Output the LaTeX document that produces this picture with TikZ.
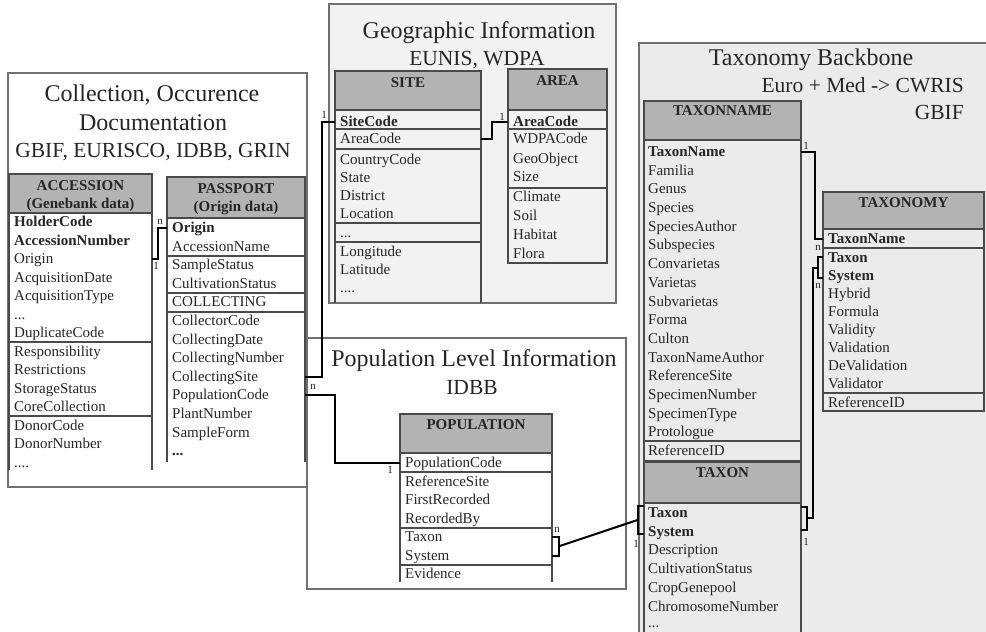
\documentclass[tikz,border=0pt]{standalone}
\usepackage{fontspec}
\setmainfont{Liberation Serif}
\usetikzlibrary{calc}

\definecolor{hdrgray}{HTML}{B3B3B3}
\definecolor{tblline}{HTML}{4A4A4A}
\definecolor{panelline}{HTML}{707070}
\definecolor{geofill}{HTML}{F2F2F2}
\definecolor{taxfill}{HTML}{EBEBEB}
\definecolor{ink}{HTML}{262626}

\newcommand{\tdots}{...}
\newcommand{\fdots}{....}

% one column of field names: prefix, x, list of y/text
\newcommand{\fieldcol}[3]{%
  \foreach \fldy/\fldt [count=\fldk] in {#3}{%
    \node[fld] (#1-\fldk) at (#2,\fldy) {\fldt};}}

\tikzset{
  panel/.style={draw=panelline, line width=1.3pt},
  tline/.style={draw=tblline, line width=1.3pt},
  fld/.style={anchor=west, inner xsep=0pt, inner ysep=0pt, text height=11pt,
    text depth=2pt, font=\fontsize{15}{18}\selectfont, text=ink},
  hdrtxt/.style={anchor=base, inner sep=0pt,
    font=\fontsize{15}{18}\selectfont\bfseries, text=ink},
  ttl/.style={anchor=base, inner sep=0pt, font=\fontsize{24}{28}\selectfont, text=ink},
  subttl/.style={anchor=base, inner sep=0pt, font=\fontsize{21.5}{26}\selectfont, text=ink},
  card/.style={inner sep=0pt, font=\fontsize{11}{13}\selectfont, text=ink},
  conn/.style={draw=black, line width=2pt, line join=miter},
}

\begin{document}
\begin{tikzpicture}[x=1pt,y=-1pt]
\useasboundingbox[fill=white] (0,0) rectangle (986,632);

% ---------------- Collection, Occurence Documentation ----------------
\draw[panel, fill=white] (8,73) rectangle (307,487);
\node[ttl] (coll-t1) at (152,101) {Collection, Occurence};
\node[ttl] (coll-t2) at (153,130) {Documentation};
\node[subttl] (coll-t3) at (153,157) {GBIF, EURISCO, IDBB, GRIN};

% ACCESSION
\coordinate (acc-l) at (9,0);
\coordinate (acc-r) at (152,0);
\fill[hdrgray] (9,174) rectangle (152,213);
\draw[tline] (9,470) -- (9,174) -- (152,174) -- (152,470);
\draw[tline] (9,213) -- (152,213) (9,342) -- (152,342) (9,416) -- (152,416);
\node[hdrtxt] (acc-h1) at (80.5,190) {ACCESSION};
\node[hdrtxt] (acc-h2) at (80.5,208) {(Genebank data)};
\fieldcol{acc}{14}{222/\textbf{HolderCode}, 240.5/\textbf{AccessionNumber},
  259/Origin, 277.5/AcquisitionDate, 296/AcquisitionType, 314.5/\tdots,
  333/DuplicateCode, 351.5/Responsibility, 370/Restrictions,
  388.5/StorageStatus, 407/CoreCollection, 425.5/DonorCode,
  444/DonorNumber, 462.5/\fdots}

% PASSPORT
\coordinate (pas-l) at (167,0);
\coordinate (pas-r) at (305,0);
\fill[hdrgray] (167,177) rectangle (305,218);
\draw[tline] (167,462) -- (167,177) -- (305,177) -- (305,462);
\draw[tline] (167,218) -- (305,218) (167,256) -- (305,256)
  (167,293) -- (305,293) (167,312) -- (305,312);
\node[hdrtxt] (pas-h1) at (236,193) {PASSPORT};
\node[hdrtxt] (pas-h2) at (236,211) {(Origin data)};
\fieldcol{pas}{172}{228/\textbf{Origin}, 246.6/AccessionName,
  265.2/SampleStatus, 283.8/CultivationStatus, 302.4/COLLECTING,
  321/CollectorCode, 339.6/CollectingDate, 358.2/CollectingNumber,
  376.8/CollectingSite, 395.4/PopulationCode, 414/PlantNumber,
  432.6/SampleForm, 451.2/\textbf{\tdots}}

% ---------------- Geographic Information ----------------
\draw[panel, fill=geofill] (329,4) rectangle (616,303);
\node[ttl] (geo-t1) at (479,38) {Geographic Information};
\node[subttl] (geo-t2) at (477,65) {EUNIS, WDPA};

% SITE
\coordinate (site-l) at (335,0);
\coordinate (site-r) at (481,0);
\fill[hdrgray] (335,71) rectangle (481,110);
\draw[tline] (335,303) -- (335,71) -- (481,71) -- (481,303);
\draw[tline] (335,110) -- (481,110) (335,129) -- (481,129)
  (335,149) -- (481,149) (335,223) -- (481,223) (335,242) -- (481,242);
\node[hdrtxt] (site-h) at (408,87) {SITE};
\fieldcol{site}{340}{122/\textbf{SiteCode}, 138.5/AreaCode,
  160/CountryCode, 178/State, 196/District, 214/Location, 232.5/\tdots,
  252/Longitude, 270/Latitude, 287.5/\fdots}

% AREA
\coordinate (area-l) at (508,0);
\fill[hdrgray] (508,69) rectangle (607,110);
\draw[tline] (508,69) rectangle (607,263);
\draw[tline] (508,110) -- (607,110) (508,129) -- (607,129) (508,188) -- (607,188);
\node[hdrtxt] (area-h) at (557.5,85) {AREA};
\fieldcol{area}{513}{122/\textbf{AreaCode}, 139/WDPACode, 159/GeoObject,
  177/Size, 197/Climate, 216/Soil, 235/Habitat, 254/Flora}

% ---------------- Population Level Information ----------------
\draw[panel, fill=white] (307,338) rectangle (626,589);
\node[ttl] (pl-t1) at (474,366) {Population Level Information};
\node[subttl] (pl-t2) at (472,394) {IDBB};

% POPULATION
\coordinate (pop-l) at (400,0);
\coordinate (pop-r) at (552,0);
\fill[hdrgray] (400,414) rectangle (552,453);
\draw[tline] (400,582) -- (400,414) -- (552,414) -- (552,582);
\draw[tline] (400,453) -- (552,453) (400,472) -- (552,472)
  (400,528) -- (552,528) (400,565) -- (552,565);
\node[hdrtxt] (pop-h) at (476,429) {POPULATION};
\fieldcol{pop}{405}{463/PopulationCode, 481.5/ReferenceSite,
  500/FirstRecorded, 518.5/RecordedBy, 537/Taxon, 555.5/System, 574/Evidence}

% ---------------- Taxonomy Backbone ----------------
\fill[taxfill] (639,43) rectangle (986,632);
\draw[panel] (986,43) -- (639,43) -- (639,632);
\node[ttl] (tb-t1) at (811,65) {Taxonomy Backbone};
\node[subttl, anchor=base east] (tb-t2) at (964,92) {Euro + Med -> CWRIS};
\node[subttl, anchor=base east] (tb-t3) at (964,119) {GBIF};

% TAXONNAME
\coordinate (tn-r) at (801,0);
\fill[hdrgray] (644,101) rectangle (801,140);
\draw[tline] (644,101) rectangle (801,461);
\draw[tline] (644,140) -- (801,140) (644,441) -- (801,441);
\node[hdrtxt] (tn-h) at (722.5,115) {TAXONNAME};
\fieldcol{tn}{648}{152/\textbf{TaxonName}, 170.7/Familia, 189.4/Genus,
  208.1/Species, 226.8/SpeciesAuthor, 245.4/Subspecies, 264.1/Convarietas,
  282.8/Varietas, 301.5/Subvarietas, 320.2/Forma, 338.9/Culton,
  357.6/TaxonNameAuthor, 376.3/ReferenceSite, 395/SpecimenNumber,
  413.7/SpecimenType, 432.4/Protologue, 451/ReferenceID}

% TAXON
\coordinate (tx-l) at (644,0);
\coordinate (tx-r) at (801,0);
\fill[hdrgray] (644,462) rectangle (801,503);
\draw[tline] (644,632) -- (644,462) -- (801,462) -- (801,632);
\draw[tline] (644,503) -- (801,503);
\node[hdrtxt] (tx-h) at (722.5,477) {TAXON};
\fieldcol{tx}{648}{513/\textbf{Taxon}, 531.7/\textbf{System},
  550.4/Description, 569.1/CultivationStatus, 587.8/CropGenepool,
  606.5/ChromosomeNumber, 623/\tdots}

% TAXONOMY
\coordinate (tax-l) at (823,0);
\fill[hdrgray] (823,192) rectangle (984,229);
\draw[tline] (823,192) rectangle (984,411);
\draw[tline] (823,229) -- (984,229) (823,248) -- (984,248) (823,393) -- (984,393);
\node[hdrtxt] (tax-h) at (903.5,207) {TAXONOMY};
\fieldcol{tax}{828}{239/\textbf{TaxonName}, 258/\textbf{Taxon},
  276/\textbf{System}, 294/Hybrid, 312/Formula, 330/Validity,
  347.5/Validation, 365.5/DeValidation, 383.5/Validator, 402.5/ReferenceID}

% ---------------- Relationships ----------------
% ACCESSION.Origin -- PASSPORT.Origin
\draw[conn] (acc-3 -| acc-r) -- ++(6,0) |- (pas-1 -| pas-l);
\node[card] (c-acc-n) at (160,222) {n};
\node[card] (c-acc-1) at (156,266) {1};

% PASSPORT.CollectingSite -- SITE.SiteCode
\draw[conn] (pas-9 -| pas-r) -- ++(17,0) |- (site-1 -| site-l);
\node[card] (c-site-n) at (313,387) {n};
\node[card] (c-site-1) at (324,115) {1};

% PASSPORT.PopulationCode -- POPULATION.PopulationCode
\draw[conn] (pas-10 -| pas-r) -- ++(30,0) |- (pop-1 -| pop-l);
\node[card] (c-pop-1) at (390,470) {1};

% SITE.AreaCode -- AREA.AreaCode
\draw[conn] (site-2 -| site-r) -- ++(11,0) |- (area-1 -| area-l);
\node[card] (c-area-1) at (502,117) {1};

% POPULATION.(Taxon, System) -- TAXON.(Taxon, System)
\draw[conn] (pop-5 -| pop-r) -- ++(7,0) coordinate (pb1)
  -- (pb1 |- pop-6) coordinate (pb2) -- (pop-6 -| pop-r);
\draw[conn] ($(tx-1 -| tx-l)+(0,-7)$) -- ++(-6,0) coordinate (tb1)
  -- ($(tx-2 -| tx-l)+(-6,2)$) coordinate (tb2) -- ++(6,0);
\draw[conn] ($(pb1)!0.5!(pb2)$) -- ($(tb1)!0.5!(tb2)$);
\node[card] (c-ptx-n) at (557,530) {n};
\node[card] (c-ptx-1) at (636,544) {1};

% TAXONNAME.TaxonName -- TAXONOMY.TaxonName
\draw[conn] (tn-1 -| tn-r) -- ++(14,0) |- (tax-1 -| tax-l);
\node[card] (c-tn-1) at (806,146) {1};
\node[card] (c-tn-n) at (818,248) {n};

% TAXON.(Taxon, System) -- TAXONOMY.(Taxon, System)
\draw[conn] ($(tx-1 -| tx-r)+(0,-6)$) -- ++(6,0) coordinate (rb1)
  -- ($(tx-2 -| tx-r)+(6,-2)$) coordinate (rb2) -- ++(-6,0);
\draw[conn] ($(tax-2 -| tax-l)+(0,-1)$) -- ++(-5,0) coordinate (lb1)
  -- ($(tax-3 -| tax-l)+(-5,2)$) coordinate (lb2) -- ++(5,0);
\draw[conn] ($(rb1)!0.5!(rb2)$) -- ++(6,0) |- ($(lb1)!0.5!(lb2)$);
\node[card] (c-txt-n) at (818,286) {n};
\node[card] (c-txt-1) at (806,542) {1};

\end{tikzpicture}
\end{document}
